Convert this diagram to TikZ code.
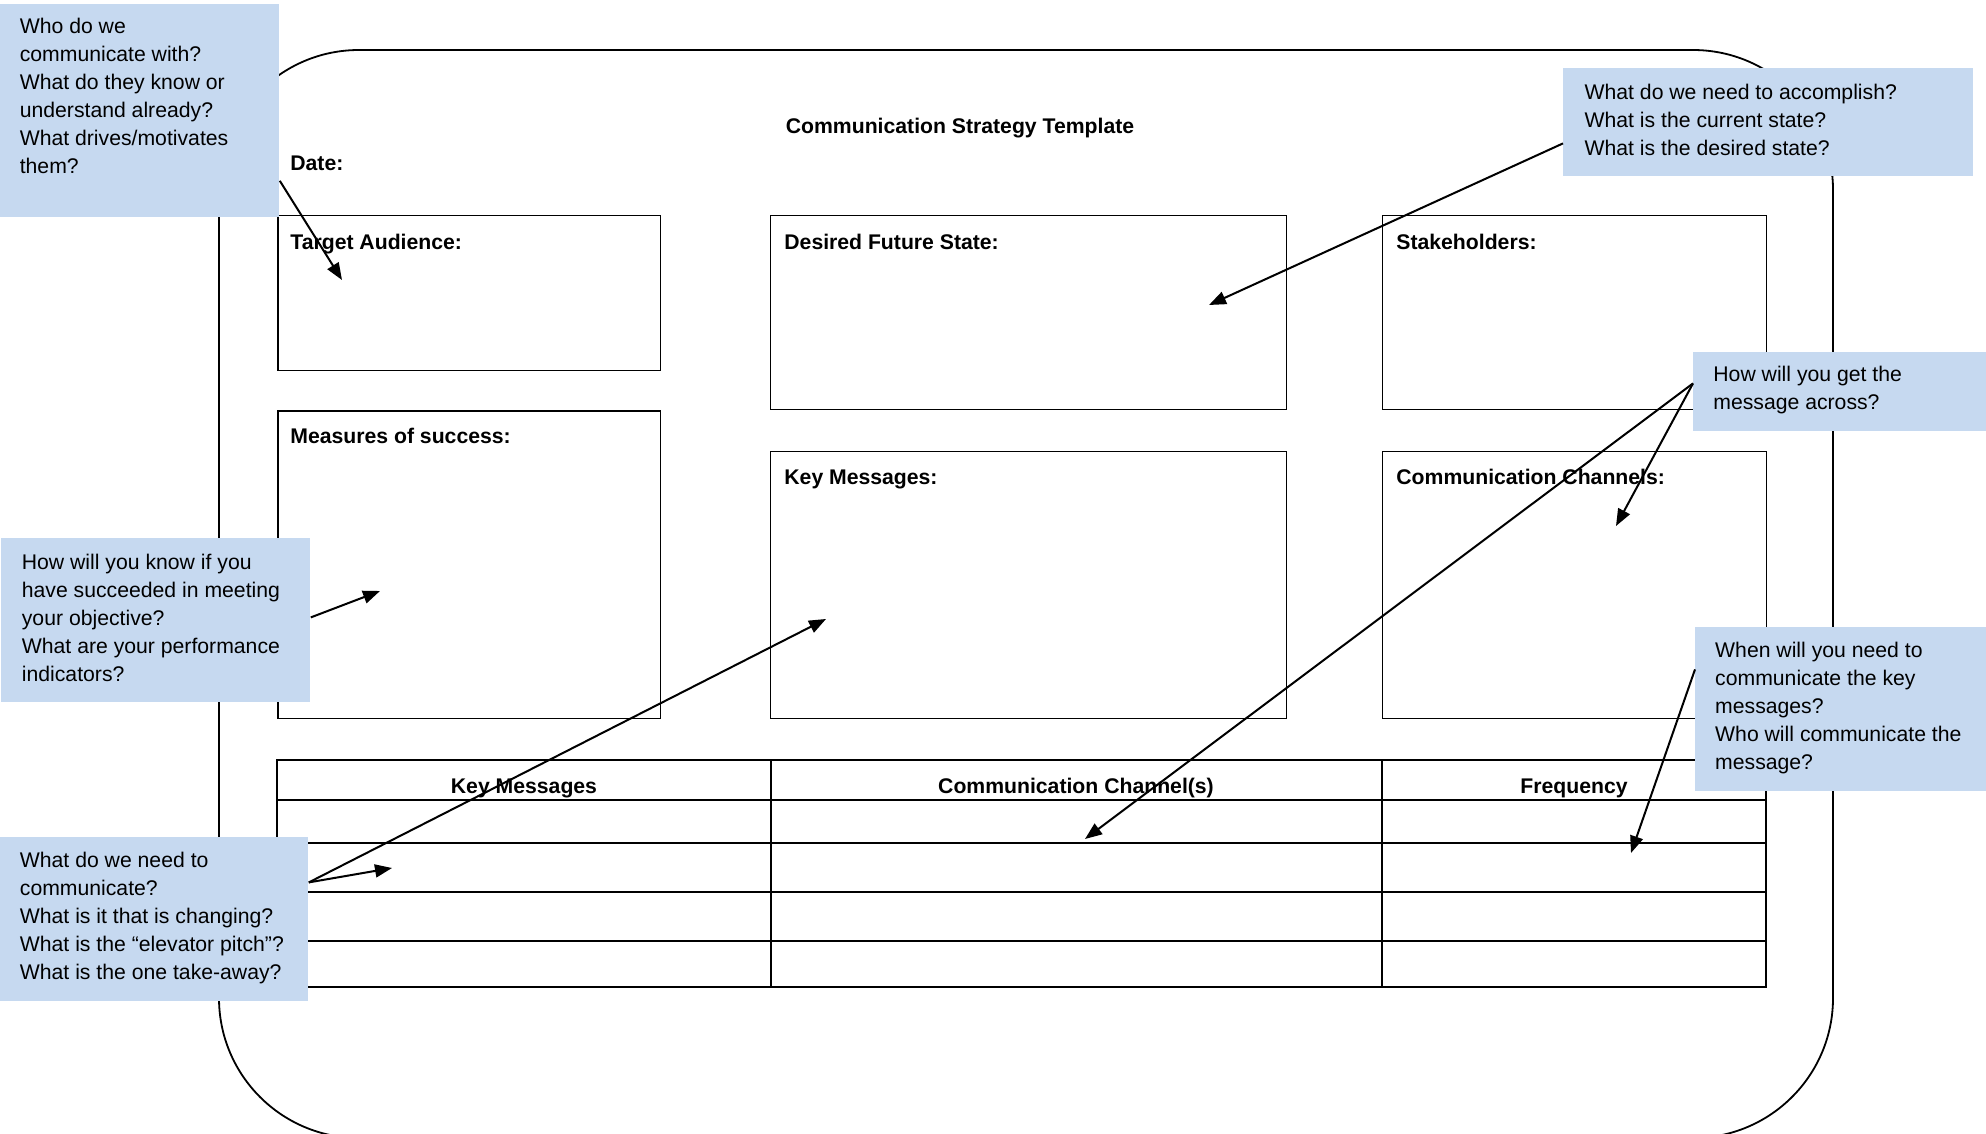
\documentclass[tikz,border=0pt]{standalone}
\usepackage{fontspec}
\setmainfont{Liberation Sans}
\usetikzlibrary{arrows.meta}

\definecolor{calloutblue}{RGB}{198,217,240}
\newcommand{\qfont}{\fontsize{10.6}{14}\selectfont}
\newcommand{\lfont}{\fontsize{10.6}{13}\selectfont\bfseries}

\begin{document}
\begin{tikzpicture}[x=0.5pt, y=-0.5pt,
    callout/.style={rectangle, fill=calloutblue, inner sep=0pt, anchor=north west},
    qtext/.style={align=left, inner sep=0pt, anchor=west, font=\qfont},
    field/.style={rectangle, draw, line width=0.55pt, inner sep=0pt, anchor=north west},
    fieldlbl/.style={inner sep=0pt, anchor=base west, font=\lfont},
    colhead/.style={inner sep=0pt, anchor=base, font=\lfont},
    hint/.style={line width=1pt, -{Triangle[length=8.5pt, width=6.5pt]}}]
    \useasboundingbox (0,0) rectangle (1986,1134);

    % outer frame
    \draw[line width=0.9pt, rounded corners=70pt] (219,50) rectangle (1833,1138);

    \node[colhead] (title) at (960,133.5) {Communication Strategy Template};
    \node[fieldlbl] (date) at (290,171) {Date:};

    % template fields
    \node[field, minimum width=191.3pt, minimum height=77.35pt] (ta) at (277.4,215.3) {};
    \node[field, minimum width=257.8pt, minimum height=97pt] (dfs) at (770,215.3) {};
    \node[field, minimum width=191.8pt, minimum height=97pt] (sh) at (1382,215.3) {};
    \node[field, minimum width=191.3pt, minimum height=153.8pt] (ms) at (277.4,410.4) {};
    \node[field, minimum width=257.8pt, minimum height=133.5pt] (km) at (770,451) {};
    \node[field, minimum width=191.8pt, minimum height=133.5pt] (cc) at (1382,451) {};

    \node[fieldlbl] (taL) at ([xshift=6.3pt, yshift=-17pt]ta.north west) {Target Audience:};
    \node[fieldlbl] (dfsL) at ([xshift=7pt, yshift=-17pt]dfs.north west) {Desired Future State:};
    \node[fieldlbl] (shL) at ([xshift=7pt, yshift=-17pt]sh.north west) {Stakeholders:};
    \node[fieldlbl] (msL) at ([xshift=6.3pt, yshift=-16.5pt]ms.north west) {Measures of success:};
    \node[fieldlbl] (kmL) at ([xshift=7pt, yshift=-16.5pt]km.north west) {Key Messages:};
    \node[fieldlbl] (ccL) at ([xshift=7pt, yshift=-16.5pt]cc.north west) {Communication Channels:};

    % plan table
    \draw[line width=0.55pt] (277,760) rectangle (1766,987);
    \foreach \y in {800,843,892,941}
        \draw[line width=0.55pt] (277,\y) -- (1766,\y);
    \foreach \x in {771,1382}
        \draw[line width=0.55pt] (\x,760) -- (\x,987);
    \node[colhead] (h1) at (524,793.5) {Key Messages};
    \node[colhead] (h2) at (1076,793.5) {Communication Channel(s)};
    \node[colhead] (h3) at (1574,793.5) {Frequency};

    % question callouts
    \node[callout, minimum width=139.5pt, minimum height=106.5pt] (c1) at (0,4) {};
    \node[qtext, xshift=9.7pt, yshift=7.25pt] (c1t) at (c1.west)
        {Who do we\\communicate with?\\What do they know or\\understand already?\\What drives/motivates\\them?};
    \node[callout, minimum width=205pt, minimum height=54pt] (c2) at (1563,68) {};
    \node[qtext, xshift=10.6pt, yshift=1.3pt] (c2t) at (c2.west)
        {What do we need to accomplish?\\What is the current state?\\What is the desired state?};
    \node[callout, minimum width=154.5pt, minimum height=82pt] (c3) at (1,538) {};
    \node[qtext, xshift=10.25pt, yshift=1pt] (c3t) at (c3.west)
        {How will you know if you\\have succeeded in meeting\\your objective?\\What are your performance\\indicators?};
    \node[callout, minimum width=154pt, minimum height=82pt] (c4) at (0,837) {};
    \node[qtext, xshift=9.75pt, yshift=0.8pt] (c4t) at (c4.west)
        {What do we need to\\communicate?\\What is it that is changing?\\What is the “elevator pitch”?\\What is the one take-away?};
    \node[callout, minimum width=146.5pt, minimum height=39.5pt] (c5) at (1693,352) {};
    \node[qtext, xshift=10pt, yshift=0.8pt] (c5t) at (c5.west)
        {How will you get the\\message across?};
    \node[callout, minimum width=145.5pt, minimum height=82pt] (c6) at (1695,627) {};
    \node[qtext, xshift=9.9pt, yshift=0.8pt] (c6t) at (c6.west)
        {When will you need to\\communicate the key\\messages?\\Who will communicate the\\message?};

    % arrow targets
    \coordinate (pTA) at (342,280);
    \coordinate (pDFS) at (1209,305);
    \coordinate (pMS) at (380,591);
    \coordinate (pRow) at (392,868);
    \coordinate (pKM) at (826,619);
    \coordinate (pCC) at (1616,526);
    \coordinate (pChan) at (1085,839);
    \coordinate (pFreq) at (1631,853);

    \draw[hint] ([yshift=18.5pt]c1.south east) -- (pTA);
    \draw[hint] ([yshift=-10.5pt]c2.west) -- (pDFS);
    \draw[hint] ([yshift=1.5pt]c3.east) -- (pMS);
    \draw[hint] ([yshift=18.5pt]c4.east) -- (pRow);
    \draw[hint] ([yshift=18.5pt]c4.east) -- (pKM);
    \draw[hint] ([yshift=4.25pt]c5.west) -- (pCC);
    \draw[hint] ([yshift=4.25pt]c5.west) -- (pChan);
    \draw[hint] ([yshift=20pt]c6.west) -- (pFreq);
\end{tikzpicture}
\end{document}
